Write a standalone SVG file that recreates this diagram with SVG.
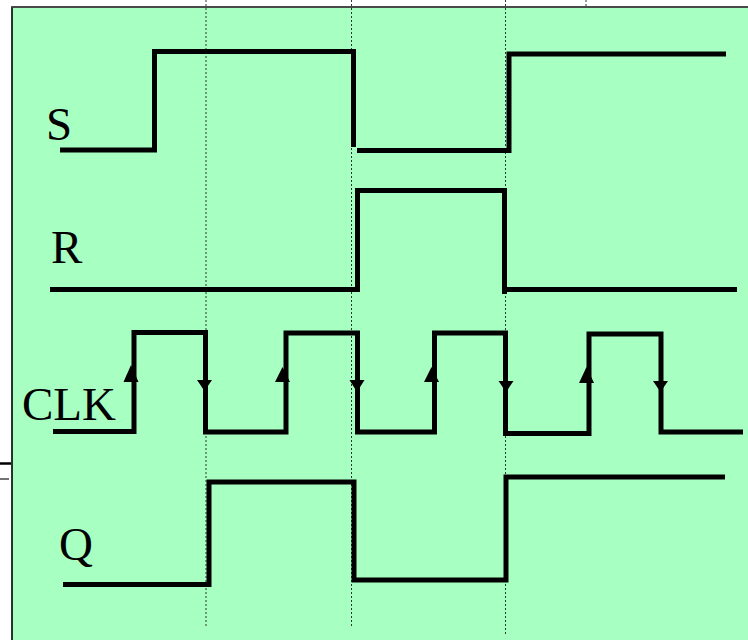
<svg xmlns="http://www.w3.org/2000/svg" width="748" height="640" viewBox="0 0 748 640">
<style>
.sig{fill:none;stroke:#000;stroke-width:5;stroke-linejoin:miter;stroke-linecap:butt}
.guide{stroke:#2a3a30;stroke-width:1;stroke-dasharray:2 2;fill:none}
.lbl{font-family:"Liberation Serif","Times New Roman",serif;font-size:47px;fill:#000}
.arr{fill:#000}
</style>
<rect x="0" y="0" width="748" height="640" fill="#ffffff"/>
<g id="frame">
<rect x="12" y="7" width="740" height="640" fill="#a8ffc2" stroke="#000" stroke-width="1.6"/>
<line x1="12" y1="7" x2="748" y2="7" stroke="#555" stroke-width="1.6"/>
<line x1="0" y1="463.5" x2="11" y2="463.5" stroke="#000" stroke-width="2.5"/>
<line x1="0" y1="479" x2="9" y2="479" stroke="#444" stroke-width="1.5"/>
</g>
<g id="guides">
<line class="guide" x1="206" y1="0" x2="206" y2="628"/>
<line class="guide" x1="351.5" y1="0" x2="351.5" y2="628"/>
<line class="guide" x1="505.5" y1="0" x2="505.5" y2="636"/>
<line class="guide" x1="586" y1="0" x2="586" y2="7"/>
</g>
<g id="S">
<text class="lbl" x="46" y="140">S</text>
<polyline class="sig" points="60,150 154.5,150 154.5,51.5 353.5,51.5 353.5,147"/>
<polyline class="sig" points="357,150.5 509,150.5 509,54 726,54"/>
</g>
<g id="R">
<text class="lbl" x="51" y="263">R</text>
<polyline class="sig" points="50,289.5 357.5,289.5 357.5,190.5 504.5,190.5 504.5,294"/>
<line class="sig" x1="505" y1="289.5" x2="737" y2="289.5"/>
</g>
<g id="CLK">
<text class="lbl" x="22" y="420">CLK</text>
<polyline class="sig" points="53,431.5 134,431.5 134,332.5 205.5,332.5 205.5,432 286,432 286,333 357.5,333 357.5,432 434.5,432 434.5,333 505.5,333 505.5,433.5 589,433.5 589,334 661,334 661,432 743,432"/>
<polygon class="arr" points="131,365 123.5,382 138.5,382"/>
<polygon class="arr" points="282.5,367 275,382 290,382"/>
<polygon class="arr" points="431.5,367 424,382 439,382"/>
<polygon class="arr" points="586.5,367 579,383 594,383"/>
<polygon class="arr" points="204.5,391 197,380 212,380"/>
<polygon class="arr" points="357,392 349.5,380 364.5,380"/>
<polygon class="arr" points="506,392 498.5,381 513.5,381"/>
<polygon class="arr" points="660.5,392 653,381 668,381"/>
</g>
<g id="Q">
<text class="lbl" x="59" y="560">Q</text>
<polyline class="sig" points="63,584.5 209,584.5 209,482 354,482 354,580 506,580 506,477 725,477"/>
</g>
</svg>
